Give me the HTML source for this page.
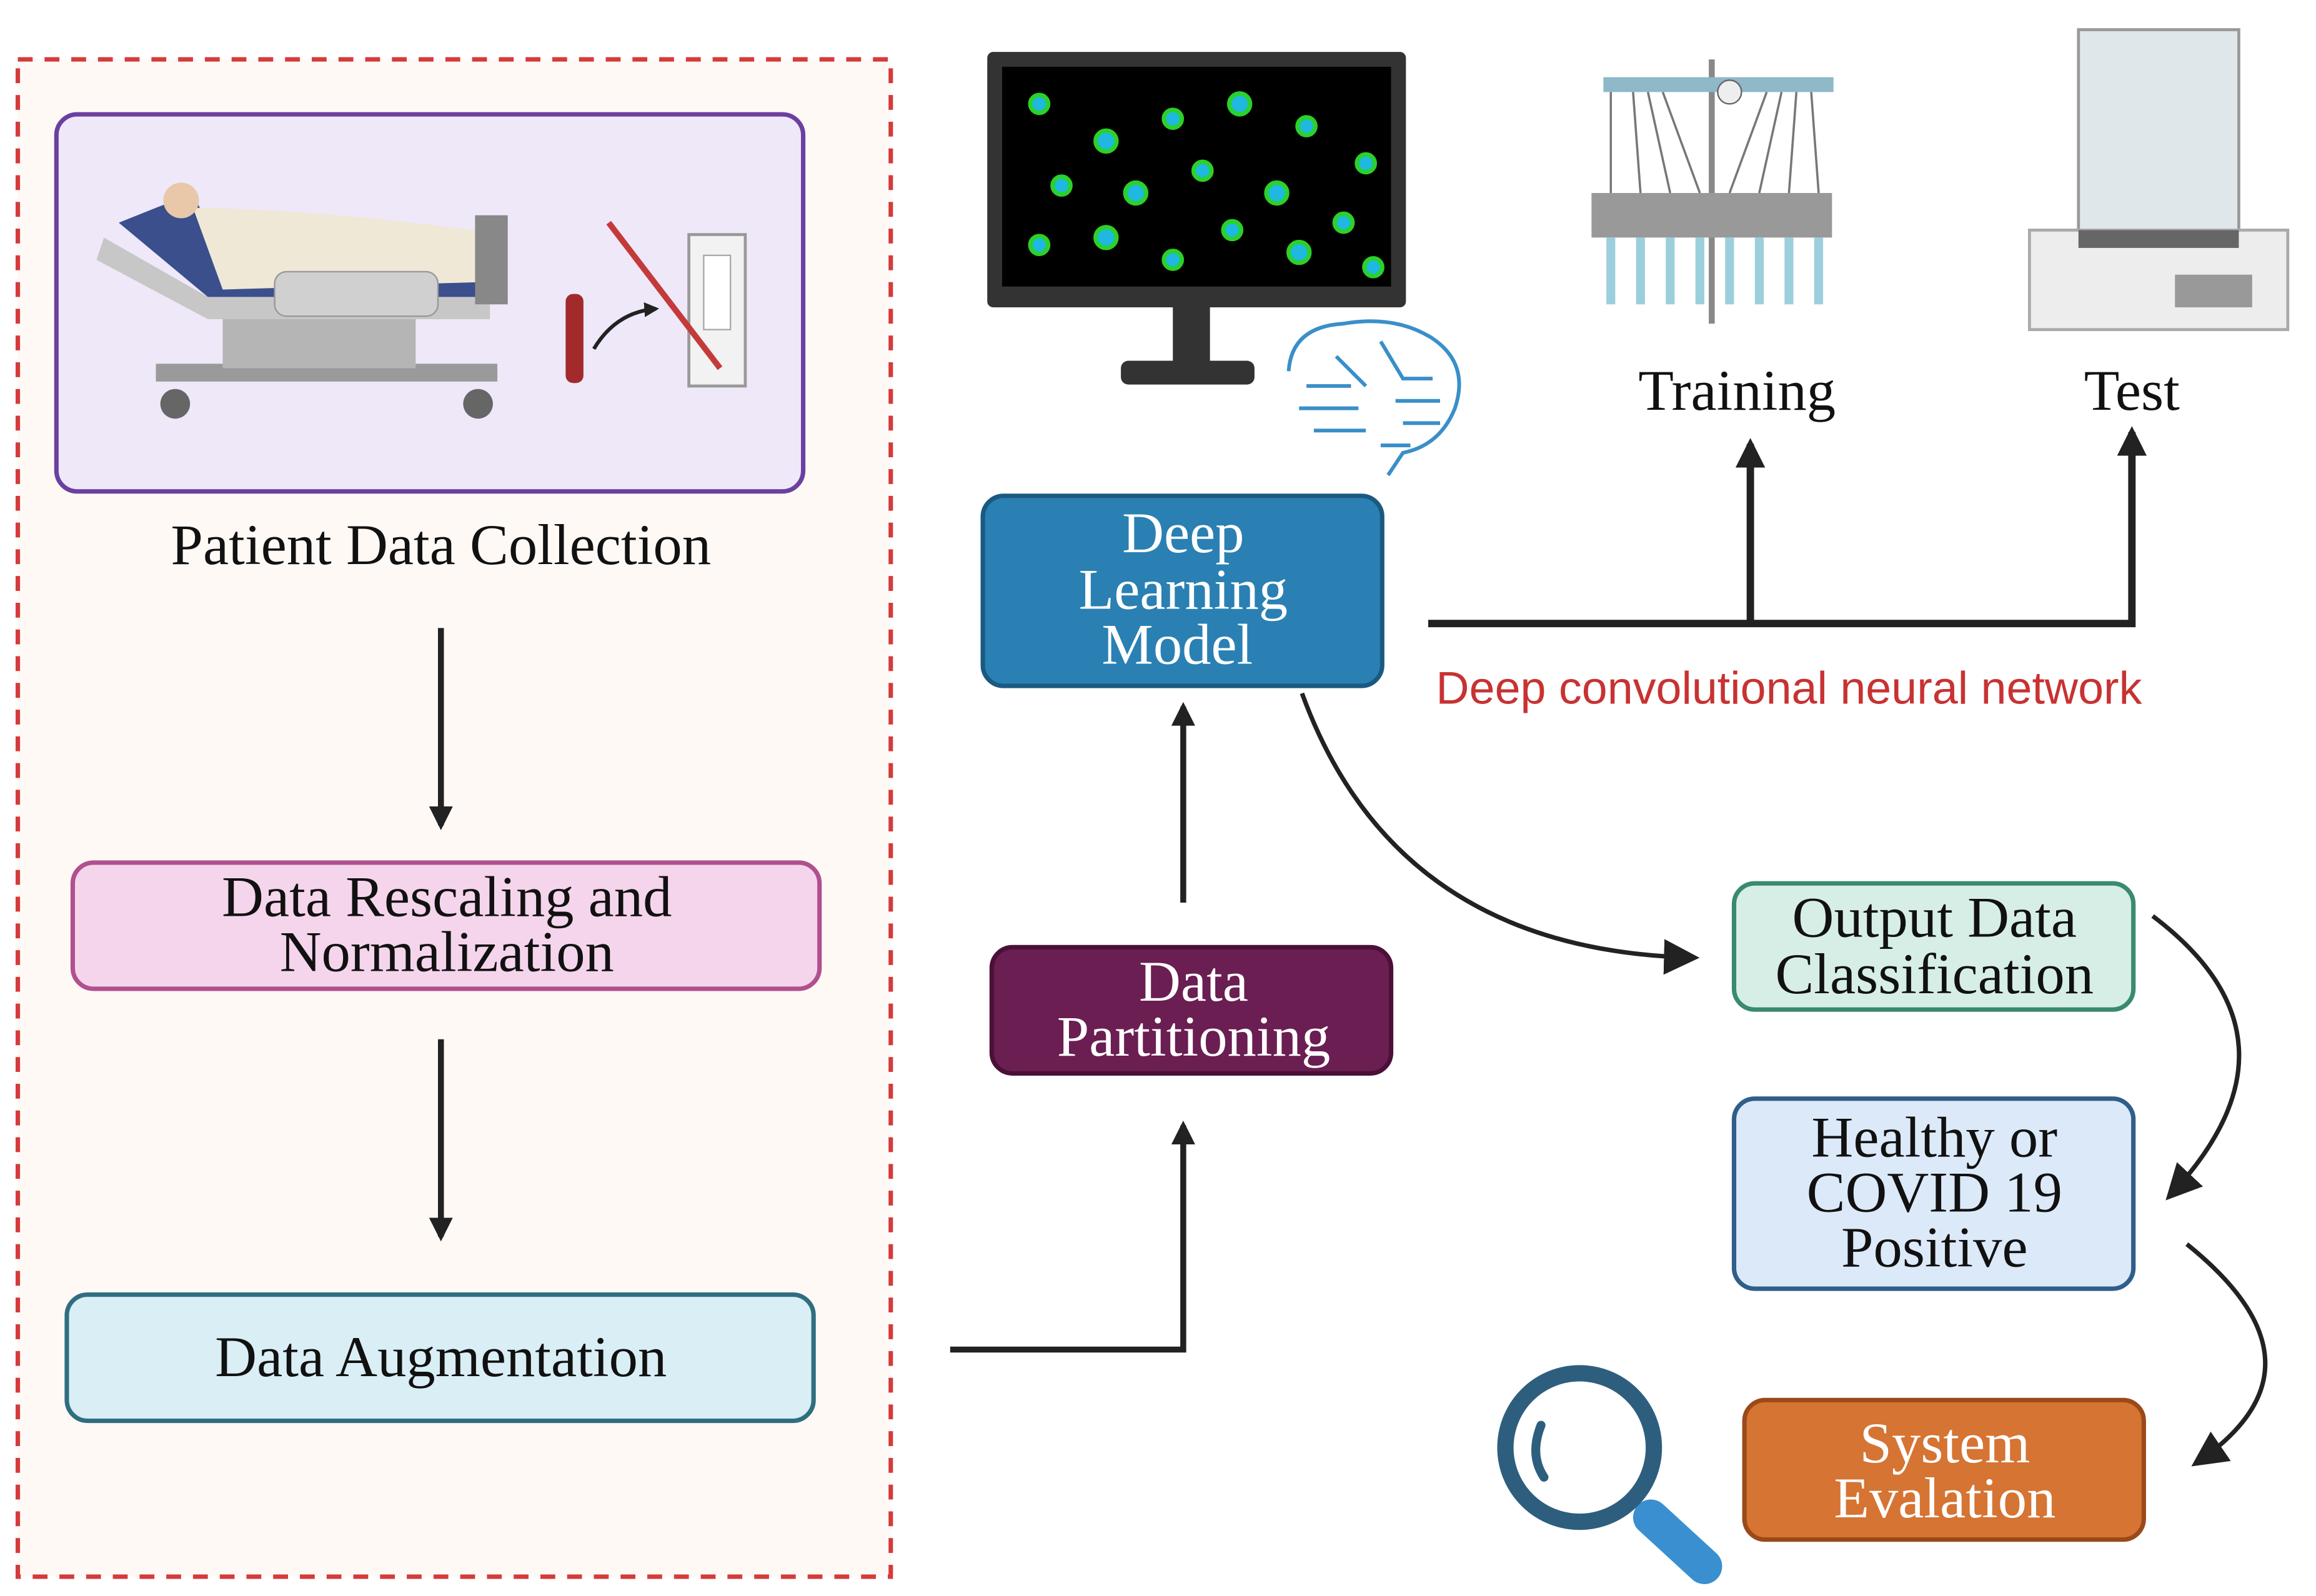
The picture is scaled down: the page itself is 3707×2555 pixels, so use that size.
<!DOCTYPE html>
<html><head><meta charset="utf-8"><style>
html,body{margin:0;padding:0;background:#fff;}
svg{display:block;}
.s{font-family:"Liberation Serif",serif;}
</style></head><body>
<svg width="3707" height="2555" viewBox="0 0 1560 1075" preserveAspectRatio="none" xmlns="http://www.w3.org/2000/svg">
<defs>
<marker id="ah" viewBox="0 0 10 10" refX="8" refY="5" markerWidth="4" markerHeight="4" orient="auto-start-reverse"><path d="M0,0 L10,5 L0,10 z" fill="#222"/></marker>
<marker id="ab" viewBox="0 0 10 10" refX="8" refY="5" markerWidth="8" markerHeight="8" orient="auto"><path d="M0,0 L10,5 L0,10 z" fill="#222"/></marker>
</defs>
<rect width="1560" height="1075" fill="#fff"/>
<rect x="12" y="40" width="588" height="1022" fill="#fff9f6" stroke="#d43b3b" stroke-width="3" stroke-dasharray="10,8"/>
<rect x="38" y="77" width="503" height="254" rx="14" fill="#efe8f9" stroke="#6b40a0" stroke-width="3"/>
<g>
<rect x="105" y="245" width="230" height="12" fill="#9a9a9a"/>
<circle cx="118" cy="272" r="10" fill="#666"/><circle cx="322" cy="272" r="10" fill="#666"/>
<rect x="150" y="210" width="130" height="38" fill="#b5b5b5"/>
<polygon points="70,160 140,200 330,200 330,215 140,215 65,175" fill="#c7c7c7"/>
<polygon points="80,150 130,130 160,195 140,200" fill="#3b4f8c"/>
<rect x="140" y="185" width="185" height="15" fill="#3b4f8c"/>
<path d="M130,140 Q200,140 320,155 L325,190 L150,195 Z" fill="#efe8d6"/>
<circle cx="122" cy="135" r="12" fill="#e8c8a8"/>
<rect x="185" y="183" width="110" height="30" rx="8" fill="#d0d0d0" stroke="#999"/>
<rect x="320" y="145" width="22" height="60" fill="#888"/>
</g>
<rect x="381" y="198" width="12" height="60" rx="5" fill="#a32a2a"/>
<path d="M400,235 Q415,210 442,208" fill="none" stroke="#222" stroke-width="2.5" marker-end="url(#ah)"/>
<rect x="464" y="158" width="38" height="102" fill="#f2f2f2" stroke="#999" stroke-width="2"/>
<rect x="474" y="172" width="18" height="50" fill="#fff" stroke="#aaa"/>
<line x1="410" y1="150" x2="485" y2="248" stroke="#c43a3a" stroke-width="4"/>
<text x="297" y="380" class="s" font-size="39" text-anchor="middle" fill="#111">Patient Data Collection</text>
<line x1="297" y1="423" x2="297" y2="556" stroke="#222" stroke-width="4" marker-end="url(#ah)"/>
<rect x="49" y="581" width="503" height="85" rx="14" fill="#f5d5ec" stroke="#b0508f" stroke-width="3"/>
<text x="301" y="617" class="s" font-size="39" text-anchor="middle" fill="#111">Data Rescaling and</text>
<text x="301" y="654" class="s" font-size="39" text-anchor="middle" fill="#111">Normalization</text>
<line x1="297" y1="700" x2="297" y2="833" stroke="#222" stroke-width="4" marker-end="url(#ah)"/>
<rect x="45" y="872" width="503" height="85" rx="14" fill="#d9eef5" stroke="#2f6e80" stroke-width="3"/>
<text x="297" y="927" class="s" font-size="39" text-anchor="middle" fill="#111">Data Augmentation</text>
<rect x="665" y="35" width="282" height="172" rx="4" fill="#333"/>
<rect x="675" y="45" width="262" height="148" fill="#000"/>
<g fill="#1fb8e0" stroke="#2bd12b" stroke-width="3">
<circle cx="700" cy="70" r="6"/><circle cx="745" cy="95" r="7"/><circle cx="790" cy="80" r="6"/><circle cx="835" cy="70" r="7"/><circle cx="880" cy="85" r="6"/><circle cx="920" cy="110" r="6"/>
<circle cx="715" cy="125" r="6"/><circle cx="765" cy="130" r="7"/><circle cx="810" cy="115" r="6"/><circle cx="860" cy="130" r="7"/><circle cx="905" cy="150" r="6"/>
<circle cx="700" cy="165" r="6"/><circle cx="745" cy="160" r="7"/><circle cx="790" cy="175" r="6"/><circle cx="830" cy="155" r="6"/><circle cx="875" cy="170" r="7"/><circle cx="925" cy="180" r="6"/>
</g>
<rect x="790" y="207" width="25" height="38" fill="#333"/>
<rect x="755" y="243" width="90" height="16" rx="5" fill="#333"/>
<g fill="none" stroke="#3a8fc8" stroke-width="2.5">
<path d="M868,250 Q870,220 905,218 Q940,212 965,228 Q990,245 980,275 Q970,300 945,305 L935,320"/>
<path d="M880,260 h30 M875,275 h40 M885,290 h35 M900,240 l20,20 M930,230 l15,25 h20 M940,270 h30 M945,285 h25 M950,300 h-20"/>
</g>
<rect x="662" y="334" width="269" height="128" rx="14" fill="#2a80b2" stroke="#1a5a80" stroke-width="3"/>
<text x="797" y="372" class="s" font-size="39" text-anchor="middle" fill="#fff">Deep</text>
<text x="797" y="410" class="s" font-size="39" text-anchor="middle" fill="#fff">Learning</text>
<text x="793" y="447" class="s" font-size="39" text-anchor="middle" fill="#fff">Model</text>
<line x1="797" y1="608" x2="797" y2="476" stroke="#222" stroke-width="4" marker-end="url(#ah)"/>
<rect x="668" y="638" width="269" height="85" rx="14" fill="#6a1e52" stroke="#4a1038" stroke-width="3"/>
<text x="804" y="674" class="s" font-size="39" text-anchor="middle" fill="#fff">Data</text>
<text x="804" y="711" class="s" font-size="39" text-anchor="middle" fill="#fff">Partitioning</text>
<polyline points="640,909 797,909 797,758" fill="none" stroke="#222" stroke-width="4" marker-end="url(#ah)"/>
<polyline points="962,420 1436,420 1436,291" fill="none" stroke="#222" stroke-width="5" marker-end="url(#ah)"/>
<line x1="1179" y1="420" x2="1179" y2="299" stroke="#222" stroke-width="5" marker-end="url(#ah)"/>
<text x="1205" y="474" font-family="Liberation Sans,sans-serif" font-size="31" text-anchor="middle" fill="#c83232">Deep convolutional neural network</text>
<g>
<line x1="1153" y1="40" x2="1153" y2="218" stroke="#888" stroke-width="4"/>
<rect x="1080" y="52" width="155" height="10" fill="#8fb8c8"/>
<circle cx="1165" cy="62" r="8" fill="#eee" stroke="#666"/>
<rect x="1072" y="130" width="162" height="30" fill="#999"/>
<g stroke="#9ccfdc" stroke-width="6">
<line x1="1085" y1="160" x2="1085" y2="205"/><line x1="1105" y1="160" x2="1105" y2="205"/><line x1="1125" y1="160" x2="1125" y2="205"/><line x1="1145" y1="160" x2="1145" y2="205"/><line x1="1165" y1="160" x2="1165" y2="205"/><line x1="1185" y1="160" x2="1185" y2="205"/><line x1="1205" y1="160" x2="1205" y2="205"/><line x1="1225" y1="160" x2="1225" y2="205"/>
</g>
<g stroke="#777" stroke-width="1.5" fill="none">
<path d="M1085,62 L1085,130 M1100,62 L1105,130 M1110,62 L1125,130 M1120,62 L1145,130 M1190,62 L1165,130 M1200,62 L1185,130 M1210,62 L1205,130 M1220,62 L1225,130"/>
</g>
</g>
<text x="1170" y="276" class="s" font-size="39" text-anchor="middle" fill="#111">Training</text>
<rect x="1400" y="20" width="108" height="140" fill="#dfe7ea" stroke="#999" stroke-width="2"/>
<rect x="1367" y="155" width="174" height="67" fill="#ededed" stroke="#aaa" stroke-width="2"/>
<rect x="1400" y="155" width="108" height="12" fill="#666"/>
<rect x="1465" y="185" width="52" height="22" fill="#999"/>
<text x="1436" y="276" class="s" font-size="39" text-anchor="middle" fill="#111">Test</text>
<path d="M877,467 Q940,640 1140,645" fill="none" stroke="#222" stroke-width="3" marker-end="url(#ab)"/>
<rect x="1168" y="595" width="269" height="85" rx="14" fill="#d6eee6" stroke="#3a8a70" stroke-width="3"/>
<text x="1303" y="631" class="s" font-size="39" text-anchor="middle" fill="#111">Output Data</text>
<text x="1303" y="669" class="s" font-size="39" text-anchor="middle" fill="#111">Classification</text>
<path d="M1450,617 Q1560,700 1462,805" fill="none" stroke="#222" stroke-width="3" marker-end="url(#ab)"/>
<rect x="1168" y="740" width="269" height="128" rx="14" fill="#dce9f8" stroke="#2f5e8a" stroke-width="3"/>
<text x="1303" y="779" class="s" font-size="39" text-anchor="middle" fill="#111">Healthy or</text>
<text x="1303" y="816" class="s" font-size="39" text-anchor="middle" fill="#111">COVID 19</text>
<text x="1303" y="853" class="s" font-size="39" text-anchor="middle" fill="#111">Positive</text>
<path d="M1473,838 Q1575,920 1480,985" fill="none" stroke="#222" stroke-width="3" marker-end="url(#ab)"/>
<rect x="1175" y="943" width="269" height="94" rx="14" fill="#d57433" stroke="#9a4a1a" stroke-width="3"/>
<text x="1310" y="985" class="s" font-size="39" text-anchor="middle" fill="#fff">System</text>
<text x="1310" y="1022" class="s" font-size="39" text-anchor="middle" fill="#fff">Evalation</text>
<line x1="1112" y1="1022" x2="1148" y2="1055" stroke="#3a8fd0" stroke-width="24" stroke-linecap="round"/>
<circle cx="1064" cy="975" r="50" fill="none" stroke="#2e5e7e" stroke-width="11"/>
<path d="M1038,960 Q1030,980 1040,995" fill="none" stroke="#2e5e7e" stroke-width="6" stroke-linecap="round"/>
</svg>
</body></html>
